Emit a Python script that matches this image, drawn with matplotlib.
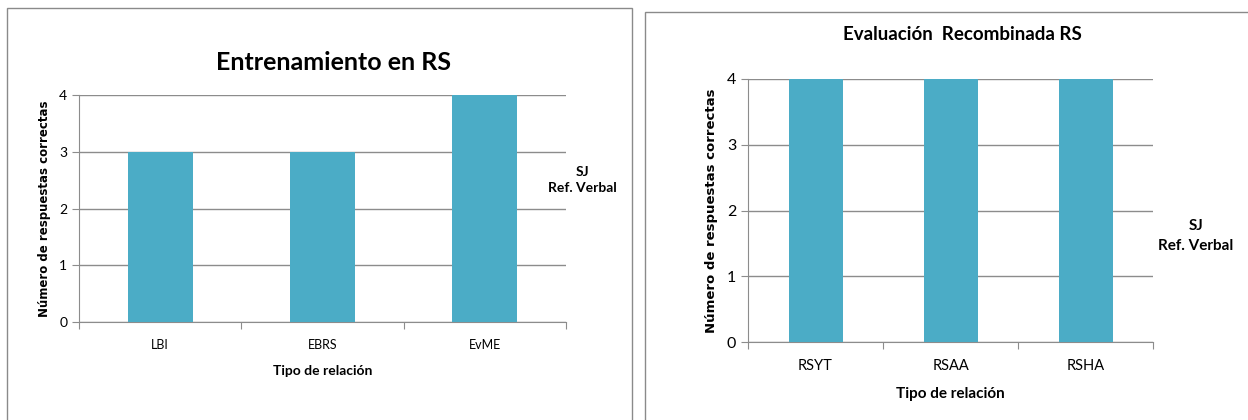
import matplotlib.pyplot as plt
from matplotlib.patches import Rectangle

plt.rcParams['font.family'] = ['Lato', 'DejaVu Sans']

# training phase
train_labels = ['LBI', 'EBRS', 'EvME']
train_values = [3, 3, 4]

# recombined evaluation
eval_labels = ['RSYT', 'RSAA', 'RSHA']
eval_values = [4, 4, 4]

bar_color = '#4BACC6'
grid_color = '#8c8c8c'

fig = plt.figure(figsize=(12.48, 4.2), dpi=100)

# panel frames
fig.patches.append(Rectangle((7 / 1248, -0.1), 625 / 1248, 1.1 - 8 / 420,
                             transform=fig.transFigure, fill=False,
                             edgecolor='#8a8a8a', linewidth=1.0))
fig.patches.append(Rectangle((645 / 1248, -0.1), 0.6, 1.1 - 12 / 420,
                             transform=fig.transFigure, fill=False,
                             edgecolor='#8a8a8a', linewidth=1.0))


def draw_panel(ax, labels, values, width, tick_size, label_size, ylabel_size):
    x = range(len(labels))
    ax.bar(x, values, width=width, color=bar_color, zorder=3)
    ax.set_xlim(-0.5, len(labels) - 0.5)
    ax.set_ylim(0, 4)
    ax.set_yticks([0, 1, 2, 3, 4])
    ax.yaxis.grid(True, color=grid_color, linewidth=1.0, zorder=0)
    ax.set_xticks([i - 0.5 for i in range(len(labels) + 1)])
    ax.set_xticklabels([])
    ax.set_xticks(list(x), minor=True)
    ax.set_xticklabels(labels, minor=True, fontsize=tick_size - 1)
    ax.tick_params(axis='x', which='major', length=5, color=grid_color)
    ax.tick_params(axis='x', which='minor', length=0, pad=12)
    ax.tick_params(axis='y', length=5, color=grid_color, labelsize=tick_size)
    for side in ['top', 'right']:
        ax.spines[side].set_visible(False)
    for side in ['left', 'bottom']:
        ax.spines[side].set_color(grid_color)
    ax.set_xlabel('Tipo de relación', fontsize=label_size, fontweight='bold',
                  labelpad=10)
    ax.set_ylabel('Número de respuestas correctas', fontsize=ylabel_size,
                  fontweight='bold', family='DejaVu Sans', labelpad=6)


ax1 = fig.add_axes([79 / 1248, 1 - 322 / 420, 487 / 1248, 227 / 420])
draw_panel(ax1, train_labels, train_values, 0.40, 10, 10, 8.5)
fig.text(333 / 1248, 1 - 62 / 420, 'Entrenamiento en RS', fontsize=18,
         fontweight='bold', ha='center', va='center')
fig.text(582 / 1248, 1 - 180 / 420, 'SJ\nRef. Verbal', fontsize=10,
         fontweight='bold', ha='center', va='center', linespacing=1.5)

ax2 = fig.add_axes([748 / 1248, 1 - 342 / 420, 405 / 1248, 263 / 420])
draw_panel(ax2, eval_labels, eval_values, 0.40, 11.5, 11, 9.5)
fig.text(962 / 1248, 1 - 35 / 420, 'Evaluación  Recombinada RS', fontsize=13.5,
         fontweight='bold', ha='center', va='center')
fig.text(1196 / 1248, 1 - 236 / 420, 'SJ\nRef. Verbal', fontsize=11,
         fontweight='bold', ha='center', va='center', linespacing=1.5)

fig.savefig('out.png', dpi=100)
